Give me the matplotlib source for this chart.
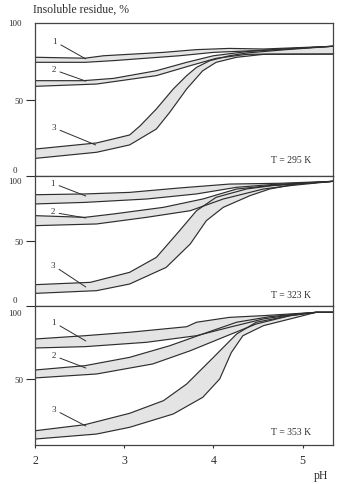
import numpy as np
import matplotlib
matplotlib.use('Agg')
import matplotlib.pyplot as plt
import matplotlib.transforms as mtransforms

plt.rcParams['font.family'] = ['Liberation Serif', 'DejaVu Serif']

# 数据: pH 与不溶残渣 (%)，每条曲线为带状区域 (上沿 / 下沿)
temps = ['T = 295 K', 'T = 323 K', 'T = 353 K']

# 295 K
p1_b1_up_x = [2.0, 2.56, 2.77, 3.44, 3.81, 4.18, 4.56, 5.34]
p1_b1_up_y = [77.6, 77.0, 78.6, 80.8, 82.6, 83.4, 83.0, 84.8]
p1_b1_lo_x = [2.0, 2.56, 2.88, 3.62, 4.0, 4.37, 4.8, 5.34]
p1_b1_lo_y = [74.3, 74.3, 75.4, 78.6, 80.8, 81.7, 83.0, 84.8]
p1_b2_up_x = [2.0, 2.54, 2.88, 3.36, 3.70, 4.0, 4.37, 4.8, 5.34]
p1_b2_up_y = [62.3, 62.3, 63.8, 68.8, 74.3, 78.6, 81.3, 83.0, 84.8]
p1_b2_lo_x = [2.0, 2.69, 3.36, 3.74, 4.03, 4.37, 4.64, 5.34]
p1_b2_lo_y = [58.6, 60.1, 65.6, 72.1, 76.9, 79.5, 79.7, 79.7]
p1_b3_up_x = [2.0, 2.69, 3.06, 3.18, 3.36, 3.55, 3.70, 3.81, 3.96, 4.18, 4.37, 4.8, 5.34]
p1_b3_up_y = [17.6, 21.6, 26.8, 32.9, 43.8, 56.9, 65.6, 71.0, 75.4, 78.6, 80.4, 82.5, 84.8]
p1_b3_lo_x = [2.0, 2.69, 3.06, 3.36, 3.51, 3.70, 3.88, 4.03, 4.26, 4.56, 5.34]
p1_b3_lo_y = [11.5, 15.5, 20.3, 30.7, 41.6, 56.9, 68.8, 74.3, 77.6, 79.5, 79.7]

# 323 K
p2_b1_up_x = [2.0, 2.56, 3.06, 3.62, 4.18, 4.74, 5.34]
p2_b1_up_y = [85.6, 86.2, 87.4, 90.8, 93.8, 94.4, 95.9]
p2_b1_lo_x = [2.0, 2.56, 3.25, 3.81, 4.26, 4.63, 5.34]
p2_b1_lo_y = [78.5, 79.7, 82.3, 86.2, 91.3, 93.3, 95.9]
p2_b2_up_x = [2.0, 2.56, 2.88, 3.44, 3.88, 4.26, 4.63, 5.34]
p2_b2_up_y = [69.5, 68.2, 70.8, 75.9, 82.3, 90.0, 92.6, 95.9]
p2_b2_lo_x = [2.0, 2.69, 3.25, 3.74, 4.11, 4.56, 4.86, 5.34]
p2_b2_lo_y = [61.8, 63.1, 68.2, 73.3, 82.3, 90.0, 92.6, 95.9]
p2_b3_up_x = [2.0, 2.62, 3.06, 3.36, 3.62, 3.81, 4.03, 4.37, 4.66, 5.34]
p2_b3_up_y = [16.4, 18.2, 25.9, 37.4, 57.9, 73.3, 83.6, 90.0, 92.6, 95.9]
p2_b3_lo_x = [2.0, 2.69, 3.06, 3.47, 3.74, 3.92, 4.11, 4.41, 4.63, 4.93, 5.34]
p2_b3_lo_y = [9.7, 11.8, 16.9, 29.7, 47.7, 65.6, 75.9, 84.9, 90.0, 93.8, 95.9]

# 353 K
p3_b1_up_x = [2.0, 2.56, 3.06, 3.70, 3.81, 4.18, 4.56, 5.15, 5.34]
p3_b1_up_y = [80.3, 82.8, 85.4, 89.6, 93.0, 96.7, 98.0, 100.5, 100.5]
p3_b1_lo_x = [2.0, 2.56, 3.25, 3.81, 4.18, 4.56, 4.93, 5.15, 5.34]
p3_b1_lo_y = [73.5, 74.5, 77.8, 82.8, 89.2, 95.5, 99.2, 100.5, 100.5]
p3_b2_up_x = [2.0, 2.56, 3.06, 3.51, 3.88, 4.26, 4.63, 5.15, 5.34]
p3_b2_up_y = [56.8, 60.1, 66.4, 75.2, 84.1, 93.0, 97.2, 100.5, 100.5]
p3_b2_lo_x = [2.0, 2.69, 3.32, 3.74, 4.11, 4.48, 4.86, 5.15, 5.34]
p3_b2_lo_y = [50.8, 53.8, 61.4, 71.4, 81.6, 91.7, 98.0, 100.5, 100.5]
p3_b3_up_x = [2.0, 2.56, 3.06, 3.44, 3.70, 4.0, 4.26, 4.48, 4.86, 5.15, 5.34]
p3_b3_up_y = [10.8, 15.4, 24.0, 33.6, 46.2, 66.4, 84.1, 93.0, 98.0, 100.5, 100.5]
p3_b3_lo_x = [2.0, 2.69, 3.06, 3.55, 3.88, 4.07, 4.2, 4.33, 4.56, 4.93, 5.15, 5.34]
p3_b3_lo_y = [4.5, 8.3, 13.4, 23.5, 36.1, 50.0, 70.0, 82.8, 90.4, 96.7, 100.5, 100.5]

panels = [
    [(p1_b1_up_x, p1_b1_up_y, p1_b1_lo_x, p1_b1_lo_y),
     (p1_b2_up_x, p1_b2_up_y, p1_b2_lo_x, p1_b2_lo_y),
     (p1_b3_up_x, p1_b3_up_y, p1_b3_lo_x, p1_b3_lo_y)],
    [(p2_b1_up_x, p2_b1_up_y, p2_b1_lo_x, p2_b1_lo_y),
     (p2_b2_up_x, p2_b2_up_y, p2_b2_lo_x, p2_b2_lo_y),
     (p2_b3_up_x, p2_b3_up_y, p2_b3_lo_x, p2_b3_lo_y)],
    [(p3_b1_up_x, p3_b1_up_y, p3_b1_lo_x, p3_b1_lo_y),
     (p3_b2_up_x, p3_b2_up_y, p3_b2_lo_x, p3_b2_lo_y),
     (p3_b3_up_x, p3_b3_up_y, p3_b3_lo_x, p3_b3_lo_y)],
]

# 曲线编号标注: (文字位置, 指向位置)
curve_labels = [
    [((2.22, 88.2), (2.57, 76.5)), ((2.21, 70.0), (2.57, 62.0)), ((2.21, 32.0), (2.68, 20.3))],
    [((2.20, 95.0), (2.57, 84.6)), ((2.20, 73.0), (2.57, 67.7)), ((2.20, 31.5), (2.57, 14.6))],
    [((2.21, 93.2), (2.57, 78.8)), ((2.21, 68.2), (2.57, 58.3)), ((2.21, 27.3), (2.57, 14.4))],
]

ylims = [(0, 100), (0, 100), (0, 105.3)]
temp_y = [0.11, 0.085, 0.10]

ink = '#2e2e2e'
fill_c = '#e4e4e4'

fig = plt.figure(figsize=(3.51, 4.85), dpi=100)
gs = fig.add_gridspec(3, 1, height_ratios=[153, 130, 139],
                      left=35/351, right=333/351, top=1-24/485, bottom=1-446/485, hspace=0)
axes = [fig.add_subplot(gs[i]) for i in range(3)]

for i, ax in enumerate(axes):
    for k, (xu, yu, xl, yl) in enumerate(panels[i]):
        ax.fill(np.concatenate([xu, xl[::-1]]), np.concatenate([yu, yl[::-1]]),
                color=fill_c, lw=0, zorder=1)
        ax.plot(xu, yu, color=ink, lw=0.85, zorder=2)
        ax.plot(xl, yl, color=ink, lw=0.85, zorder=2)
        (tx, ty), (px, py) = curve_labels[i][k]
        ax.annotate(str(k + 1), xy=(px, py), xytext=(tx, ty), fontsize=6.5, color=ink,
                    ha='center', va='center',
                    arrowprops=dict(arrowstyle='-', lw=0.7, color=ink,
                                    shrinkA=1, shrinkB=0, relpos=(1.0, 0.3)))
    ax.set_xlim(2, 5.34)
    ax.set_ylim(*ylims[i])
    ax.text(0.86, temp_y[i], temps[i], transform=ax.transAxes, fontsize=7,
            color=ink, ha='center', va='center')
    for s in ax.spines.values():
        s.set_color('#444444')
        s.set_linewidth(0.9)

    # y 轴刻度
    if i < 2:
        ax.set_yticks([0, 50], ['', '50'])
    else:
        ax.set_yticks([50], ['50'])
    ax.tick_params(axis='y', direction='out', length=6.5, width=0.8, pad=1.5,
                   labelsize=6.5, colors=ink)
    lab_tr = mtransforms.blended_transform_factory(ax.transAxes, ax.transData)
    if i < 2:
        ax.text(-0.067, 1.5, '0', transform=lab_tr, fontsize=6.5, color=ink,
                ha='center', va='bottom')
    if i == 1:
        ax.text(-0.067, 99, '100', transform=lab_tr, fontsize=6.5, color=ink,
                ha='center', va='top')
    else:
        ax.text(-0.067, 100, '100', transform=lab_tr, fontsize=6.5, color=ink,
                ha='center', va='center')

    if i < 2:
        ax.tick_params(axis='x', bottom=False, labelbottom=False)
    else:
        ax.set_xticks([2, 3, 4, 5])
        ax.tick_params(axis='x', direction='out', length=2.5, width=0.8, pad=4,
                       labelsize=8.5, colors=ink)

fig.text(33/351, 1-10/485, 'Insoluble residue, %', fontsize=8.5, color=ink,
         ha='left', va='center')
fig.text(321/351, 1-476/485, 'pH', fontsize=8.5, color=ink, ha='center', va='center')

fig.savefig('out.png', dpi=100)
